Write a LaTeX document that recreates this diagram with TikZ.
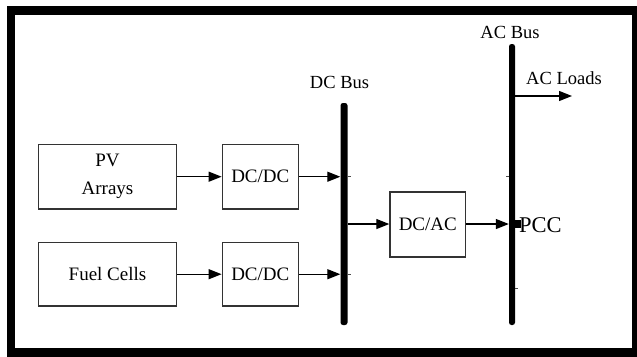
\documentclass[tikz,border=0pt]{standalone}
\usepackage{fontspec}
\setmainfont{Liberation Serif}
\usetikzlibrary{arrows.meta}
\begin{document}
\begin{tikzpicture}[x=1pt,y=-1pt,
  box/.style={draw=black!80,line width=1.3pt,inner sep=0pt,font=\fontsize{19}{21}\selectfont,align=center},
  bus/.style={fill=black,inner sep=0pt,rounded corners=2.5pt},
  arr/.style={line width=1.3pt,-{Triangle[length=13pt,width=10pt]}},
  lbl/.style={font=\fontsize{18.5}{20}\selectfont,inner sep=0pt},
  tick/.style={line width=0.8pt,black!70}]
\useasboundingbox (0,0) rectangle (637,356);
\begin{scope}
\clip (0,0) rectangle (637,356);
\draw[line width=8.5pt] (11,10.5) rectangle (636.5,352.5);
\end{scope}
% boxes
\node[box,minimum width=138.4pt,minimum height=64.7pt] (pv) at (107.5,176.7) {PV\\[7pt]Arrays};
\node[box,minimum width=138.4pt,minimum height=63.7pt] (fc) at (107.5,274.2) {Fuel Cells};
\node[box,minimum width=76pt,minimum height=64.7pt] (dcdc1) at (260.3,176.7) {DC/DC};
\node[box,minimum width=76pt,minimum height=63.7pt] (dcdc2) at (260.3,274.2) {DC/DC};
\node[box,minimum width=75.7pt,minimum height=65pt] (dcac) at (427.8,224.6) {DC/AC};
% buses
\node[bus,minimum width=7pt,minimum height=222pt] (dcbus) at (344,214) {};
\node[bus,minimum width=6pt,minimum height=281pt] (acbus) at (512,184.5) {};
\node[lbl] (dclbl) at (339.5,82.7) {DC Bus};
\node[lbl] (aclbl) at (510,32.7) {AC Bus};
\node[lbl] (loadlbl) at (564,78.3) {AC Loads};
% PCC
\node[fill=black,minimum size=8pt,inner sep=0pt] (pccdot) at (517,224) {};
\node[font=\fontsize{22.5}{24}\selectfont,inner sep=0pt,anchor=west] (pcc) at (519,225) {PCC};
\coordinate (loadend) at (572,96);
% connectors
\draw[arr] (pv.east) -- (dcdc1.west);
\draw[arr] (fc.east) -- (dcdc2.west);
\draw[arr] (dcdc1.east) -- (dcdc1.east -| dcbus.west);
\draw[arr] (dcdc2.east) -- (dcdc2.east -| dcbus.west);
\draw[arr] (dcbus.east |- pccdot) -- (dcac.west |- pccdot);
\draw[arr] (dcac.east |- pccdot) -- (acbus.west |- pccdot);
\draw[arr] (acbus.east |- loadend) -- (loadend);
% small stubs
\draw[tick] (dcbus.east |- dcdc1.east) -- ++(3,0);
\draw[tick] (dcbus.east |- dcdc2.east) -- ++(3,0);
\draw[tick] (acbus.west |- 0,176) -- ++(-2.5,0);
\draw[tick] (acbus.east |- 0,288) -- ++(3,0);
\end{tikzpicture}
\end{document}
